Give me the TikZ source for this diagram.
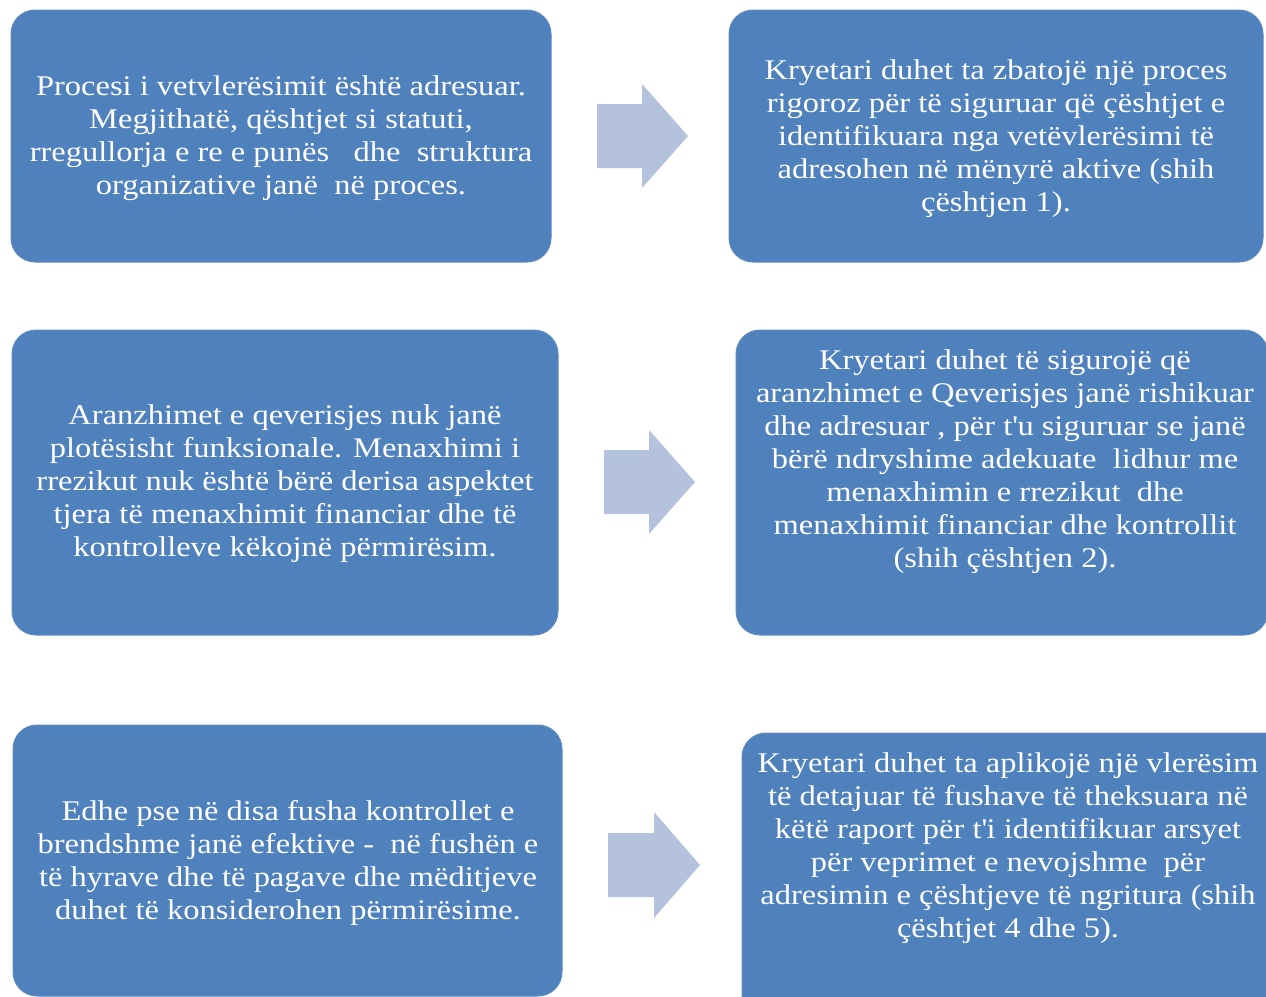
\documentclass[tikz,border=0pt]{standalone}
\usepackage{fontspec}
\setmainfont{Liberation Serif}[FakeStretch=1.14]
\definecolor{boxblue}{RGB}{79,129,189}
\definecolor{boxedge}{RGB}{95,140,195}
\definecolor{arrowblue}{RGB}{180,194,221}
\tikzset{
  boxbg/.style={fill=boxblue, draw=boxedge, line width=1pt, rounded corners=24pt},
  boxtext/.style={text=white, align=center, inner sep=0pt, font=\fontsize{28.5}{33}\selectfont},
  blockarrow/.style={fill=arrowblue, draw=none}
}
\begin{document}
\begin{tikzpicture}[x=1pt,y=-1pt]
\useasboundingbox (0,0) rectangle (1266,996);
\clip (0,0) rectangle (1266,996);
% boxes
\path[boxbg] (11,10) rectangle (551,262);
\path[boxbg] (729,10) rectangle (1263,262);
\path[boxbg] (12,330) rectangle (558,635);
\path[boxbg] (736,330) rectangle (1268,635);
\path[boxbg] (13,725) rectangle (562,996);
\path[boxbg] (742,733) rectangle (1290,1020);
% texts
\node[boxtext] (t1) at (281,138) {Procesi i vetvlerësimit është adresuar.\\Megjithatë, qështjet si statuti,\\rregullorja e re e punës \ \ dhe \ struktura\\organizative janë \ në proces.};
\node[boxtext] (t2) at (996,139) {Kryetari duhet ta zbatojë një proces\\rigoroz për të siguruar që çështjet e\\identifikuara nga vetëvlerësimi të\\adresohen në mënyrë aktive (shih\\çështjen 1).};
\node[boxtext] (t3) at (285,484) {Aranzhimet e qeverisjes nuk janë\\plotësisht funksionale. Menaxhimi i\\rrezikut nuk është bërë derisa aspektet\\tjera të menaxhimit financiar dhe të\\kontrolleve këkojnë përmirësim.};
\node[boxtext] (t4) at (1005,462) {Kryetari duhet të sigurojë që\\aranzhimet e Qeverisjes janë rishikuar\\dhe adresuar , për t\textquotesingle u siguruar se janë\\bërë ndryshime adekuate \ lidhur me\\menaxhimin e rrezikut \ dhe\\menaxhimit financiar dhe kontrollit\\(shih çështjen 2).};
\node[boxtext] (t5) at (288,863) {Edhe pse në disa fusha kontrollet e\\brendshme janë efektive - \ në fushën e\\të hyrave dhe të pagave dhe mëditjeve\\duhet të konsiderohen përmirësime.};
\node[boxtext] (t6) at (1008,848) {Kryetari duhet ta aplikojë një vlerësim\\të detajuar të fushave të theksuara në\\këtë raport për t\textquotesingle i identifikuar arsyet\\për veprimet e nevojshme \ për\\adresimin e çështjeve të ngritura (shih\\çështjet 4 dhe 5).};
% block arrows
\fill[blockarrow] (597,104) -- (642,104) -- (642,84) -- (688,136) -- (642,188) -- (642,168) -- (597,168) -- cycle;
\fill[blockarrow] (604,450) -- (649,450) -- (649,430) -- (695,482) -- (649,534) -- (649,514) -- (604,514) -- cycle;
\fill[blockarrow] (608,833) -- (654,833) -- (654,812) -- (700,865) -- (654,918) -- (654,897) -- (608,897) -- cycle;
\end{tikzpicture}
\end{document}
